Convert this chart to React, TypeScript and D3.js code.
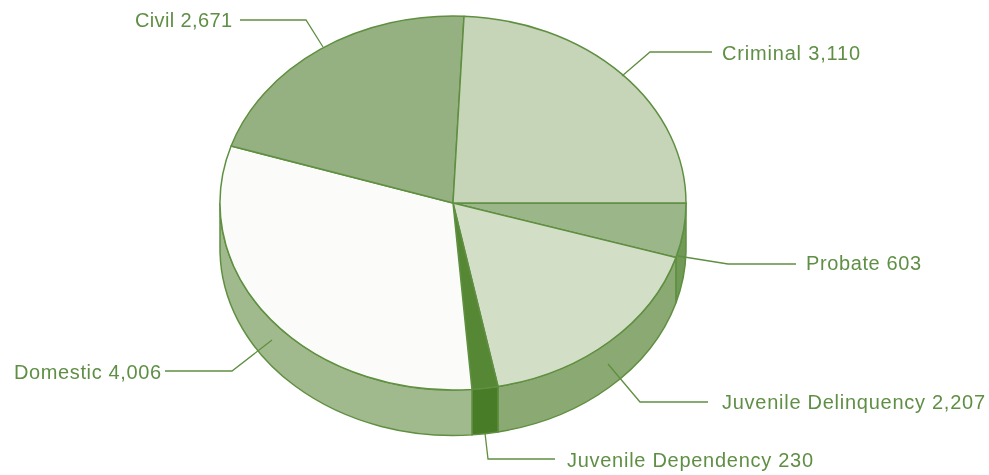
import React from "react";
import * as d3 from "d3";

const categories = ["Probate", "Juvenile Delinquency", "Juvenile Dependency", "Domestic", "Civil", "Criminal"];
const values = [603, 2207, 230, 4006, 2671, 3110];
const topColors = ["#9bb688", "#d2dec6", "#558735", "#fbfcfa", "#95b181", "#c6d4b8"];
const wallColors = ["#6f9a57", "#8ba972", "#4a7b26", "#a1ba8d", "#7fa068", "#a8bf96"];
const labelTexts = ["Probate 603", "Juvenile Delinquency 2,207", "Juvenile Dependency 230", "Domestic 4,006", "Civil 2,671", "Criminal 3,110"];

const cx = 453, cy = 203, rx = 233, ry = 187, depth = 45.5;
const lineColor = "#5f8f40";
const textColor = "#5f8f45";

// leader layout: start, elbow, end; text left, baseline, width
const leaders: [number, number][][] = [
  [[678, 256], [728, 264], [796, 264]],
  [[608, 364], [640, 402], [708, 402]],
  [[485, 433], [488, 459], [555, 459]],
  [[272, 340], [232, 371], [165, 371]],
  [[323, 47], [306, 20], [240, 20]],
  [[622, 76], [650, 52], [712, 52]],
];
const labelPos = [
  [806, 270, 115],
  [722, 409, 263],
  [567, 467, 246],
  [14, 379, 147],
  [135, 27, 97],
  [722, 60, 138],
];

const pt = (t: number, dy = 0): [number, number] => [cx + rx * Math.cos(t), cy + ry * Math.sin(t) + dy];

export default function App() {
  const pie = d3.pie<number>().sort(null).startAngle(0).endAngle(2 * Math.PI);
  const arcs = pie(values);
  const line = d3.line();

  const top = (a0: number, a1: number) => {
    const [x0, y0] = pt(a0), [x1, y1] = pt(a1);
    const large = a1 - a0 > Math.PI ? 1 : 0;
    return `M${cx},${cy}L${x0},${y0}A${rx},${ry} 0 ${large} 1 ${x1},${y1}Z`;
  };
  const wall = (a0: number, a1: number) => {
    const s = a0, e = Math.min(a1, Math.PI);
    if (s >= Math.PI) return null;
    const [x0, y0] = pt(s), [x1, y1] = pt(e);
    return `M${x0},${y0}A${rx},${ry} 0 0 1 ${x1},${y1}L${x1},${y1 + depth}A${rx},${ry} 0 0 0 ${x0},${y0 + depth}Z`;
  };

  return (
    <svg width={989} height={475} style={{ position: "absolute", left: 0, top: 0, background: "#fff" }}>
      <defs>
        <filter id="soft" x="-5%" y="-5%" width="110%" height="110%">
          <feGaussianBlur stdDeviation={0.35} />
        </filter>
      </defs>
      <g filter="url(#soft)">
        {arcs.map((a, i) => {
          const d = wall(a.startAngle, a.endAngle);
          return d ? <path key={categories[i]} d={d} fill={wallColors[i]} stroke={lineColor} strokeWidth={1.5} /> : null;
        })}
        {arcs.map((a, i) => (
          <path key={categories[i]} d={top(a.startAngle, a.endAngle)} fill={topColors[i]} stroke={lineColor} strokeWidth={1.5} strokeLinejoin="round" />
        ))}
        {leaders.map((l, i) => (
          <path key={i} d={line(l) ?? ""} fill="none" stroke={lineColor} strokeWidth={1.3} />
        ))}
        {labelTexts.map((t, i) => (
          <text key={t} x={labelPos[i][0]} y={labelPos[i][1]} textLength={labelPos[i][2]} lengthAdjust="spacing"
            fontFamily="'Liberation Sans', Arial, sans-serif" fontSize={20} fill={textColor}>{t}</text>
        ))}
      </g>
    </svg>
  );
}
